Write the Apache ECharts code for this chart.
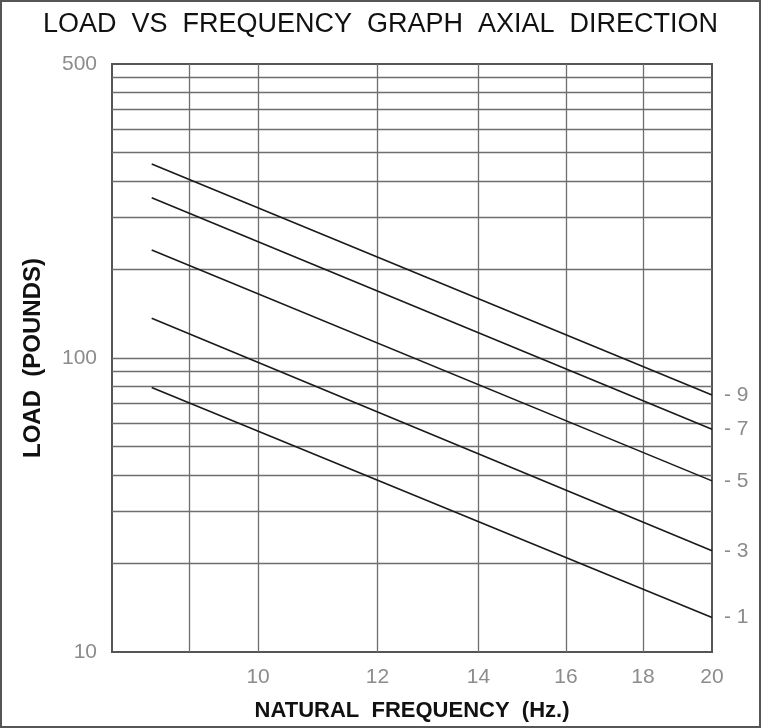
<!doctype html>
<html lang="en">
<head>
    <meta charset="UTF-8">
    <title>Load vs Frequency Graph Axial Direction</title>
    <script src="https://cdn.jsdelivr.net/npm/echarts@6/dist/echarts.min.js"></script>
    <style>
        html, body { margin: 0; padding: 0; background: #fff; }
        #loadChart { width: 761px; height: 728px; }
    </style>
</head>
<body>
<div id="loadChart"></div>
<script type="text/javascript">
/* data */
let freqStart = 8.5;
let freqEnd = 20;
let seriesNames = ['1', '3', '5', '7', '9'];
let loadStart = [79.3, 136.5, 233, 351, 457];
let loadEnd = [13.1, 22.1, 38.2, 57.2, 74.8];

/* grid lines and tick labels */
let xGridValues = [9, 10, 12, 14, 16, 18];
let xLabelValues = [10, 12, 14, 16, 18, 20];
let yGridValues = [20, 30, 40, 50, 60, 70, 80, 90, 100, 200, 300, 400, 500, 600, 700, 800, 900];
let yLabelValues = [10, 100, 1000];
let yLabelTexts = ['10', '100', '500'];

let loadChart = echarts.init(document.getElementById('loadChart'));

let tickFont = {
    color: '#8c8c8c',
    fontFamily: 'Liberation Sans Narrow, Liberation Sans',
    fontSize: 21
};

let series = seriesNames.map(function (name, i) {
    return {
        name: name,
        type: 'line',
        symbol: 'none',
        silent: true,
        lineStyle: { color: '#1a1a1a', width: 1.6 },
        endLabel: {
            show: true,
            distance: 12,
            formatter: '- ' + name,
            color: tickFont.color,
            fontFamily: tickFont.fontFamily,
            fontSize: tickFont.fontSize
        },
        data: [[freqStart, loadStart[i]], [freqEnd, loadEnd[i]]]
    };
});

let option = {
    animation: false,
    title: {
        text: 'LOAD  VS  FREQUENCY  GRAPH  AXIAL  DIRECTION',
        left: 'center',
        top: 6,
        textStyle: {
            fontFamily: 'Liberation Sans',
            fontSize: 27,
            fontWeight: 'normal',
            color: '#111'
        }
    },
    graphic: [{
        type: 'rect',
        shape: { x: 1, y: 1, width: 759, height: 726 },
        style: { fill: 'none', stroke: '#555', lineWidth: 2 },
        silent: true
    }],
    grid: {
        left: 112,
        right: 49,
        top: 64,
        bottom: 76,
        show: true,
        borderColor: '#555',
        borderWidth: 2
    },
    xAxis: {
        type: 'log',
        logBase: 10,
        min: 8,
        max: 20,
        name: 'NATURAL  FREQUENCY  (Hz.)',
        nameLocation: 'middle',
        nameGap: 48,
        nameTextStyle: {
            fontFamily: 'Liberation Sans',
            fontWeight: 'bold',
            fontSize: 22,
            color: '#111'
        },
        axisLine: { show: false },
        axisTick: { show: false, customValues: xGridValues },
        axisLabel: {
            customValues: xLabelValues,
            margin: 15,
            color: tickFont.color,
            fontFamily: tickFont.fontFamily,
            fontSize: tickFont.fontSize
        },
        splitLine: { show: true, lineStyle: { color: '#6e6e6e', width: 1.3 } }
    },
    yAxis: {
        type: 'log',
        logBase: 10,
        min: 10,
        max: 1000,
        name: 'LOAD  (POUNDS)',
        nameLocation: 'middle',
        nameGap: 67,
        nameTextStyle: {
            fontFamily: 'Liberation Sans',
            fontWeight: 'bold',
            fontSize: 24,
            color: '#111'
        },
        axisLine: { show: false },
        axisTick: { show: false, customValues: yGridValues },
        axisLabel: {
            customValues: yLabelValues,
            margin: 15,
            color: tickFont.color,
            fontFamily: tickFont.fontFamily,
            fontSize: tickFont.fontSize,
            formatter: function (v) {
                let idx = yLabelValues.indexOf(Math.round(v));
                return idx >= 0 ? yLabelTexts[idx] : '';
            }
        },
        splitLine: { show: true, lineStyle: { color: '#6e6e6e', width: 1.3 } }
    },
    series: series
};
loadChart.setOption(option);
</script>
</body>
</html>
